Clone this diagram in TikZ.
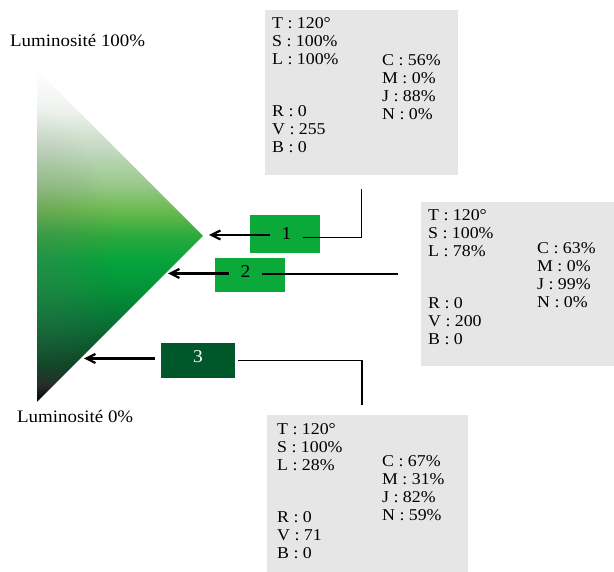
\documentclass[tikz,border=0pt]{standalone}
\usepackage{fontspec}
\setmainfont{Liberation Serif}
\newfontfamily\widefont[FakeStretch=1.08]{Liberation Serif}
\usetikzlibrary{arrows.meta,fadings}

\definecolor{boxgray}{HTML}{E6E6E6}
\definecolor{vivid}{HTML}{0BA83A}
\definecolor{deep}{HTML}{00572A}
\definecolor{lumA}{HTML}{222A24}
\definecolor{lumB}{HTML}{0C4424}
\definecolor{lumC}{HTML}{0A5A2C}
\definecolor{lumD}{HTML}{087434}
\definecolor{lumE}{HTML}{049238}
\definecolor{lumF}{HTML}{06A43C}
\definecolor{lumG}{HTML}{2EAA3C}
\definecolor{lumH}{HTML}{6CBA50}
\definecolor{lumI}{HTML}{98C88A}
\definecolor{lumJ}{HTML}{C2D8C0}
\definecolor{lumK}{HTML}{EEF2EE}

% luminosity ramp, black at the bottom to white at the top
\pgfdeclareverticalshading{lumramp}{100bp}{%
  color(0bp)=(black); color(25bp)=(black);
  color(27.56bp)=(lumA); color(30.57bp)=(lumB); color(33.58bp)=(lumC);
  color(37.35bp)=(lumD); color(41.87bp)=(lumE); color(46.39bp)=(lumF);
  color(50.15bp)=(lumG); color(53.92bp)=(lumH); color(57.68bp)=(lumI);
  color(62.95bp)=(lumJ); color(68.98bp)=(lumK);
  color(75bp)=(white); color(100bp)=(white)}

% soft haze along the left edge of the triangle
\tikzfading[name=sidehaze, inner color=transparent!72, outer color=transparent!100]

\tikzset{
  infobox/.style={fill=boxgray, draw=none, inner sep=0pt, anchor=north west},
  col/.style={anchor=north west, inner sep=0pt, align=left,
    font=\widefont\fontsize{16.5}{18}\selectfont},
  lum/.style={anchor=base west, inner sep=0pt,
    font=\widefont\fontsize{17.5}{19}\selectfont},
  swatch/.style={draw=none, inner sep=0pt},
  num/.style={inner xsep=11pt, inner ysep=0pt,
    font=\widefont\fontsize{18}{20}\selectfont},
  lead/.style={line width=1.4pt},
  pointer/.style={line width=2.2pt, -{Straight Barb[length=9pt,width=9pt]}},
}

\begin{document}
\begin{tikzpicture}[x=1pt, y=-1pt]
\useasboundingbox (0,0) rectangle (614,572);

% luminosity triangle
\coordinate (top) at (37,70);
\coordinate (apex) at (203,236);
\coordinate (bot) at (37,402);
\shade[shading=lumramp] (top) -- (apex) -- (bot) -- cycle;
\begin{scope}
  \clip (top) -- (apex) -- (bot) -- cycle;
  \fill[black!60, path fading=sidehaze] (-40,110) rectangle (114,420);
\end{scope}

\node[lum] (lumhi) at (10,46.3) {Luminosité 100\%};
\node[lum] (lumlo) at (17,422.8) {Luminosité 0\%};

% value panels
\node[infobox, minimum width=193pt, minimum height=165pt] (p1) at (265,10) {};
\node[infobox, minimum width=193pt, minimum height=164pt] (p2) at (421,202) {};
\node[infobox, minimum width=201pt, minimum height=157pt] (p3) at (267,415) {};

\node[col] (p1l) at (272,17.8)
  {T : 120°\\S : 100\%\\L : 100\%\\[34pt]R : 0\\V : 255\\B : 0};
\node[col] (p1r) at (382,54.3)
  {C : 56\%\\M : 0\%\\J : 88\%\\N : 0\%};

\node[col] (p2l) at (428,209.8)
  {T : 120°\\S : 100\%\\L : 78\%\\[34pt]R : 0\\V : 200\\B : 0};
\node[col] (p2r) at (537,242.8)
  {C : 63\%\\M : 0\%\\J : 99\%\\N : 0\%};

\node[col] (p3l) at (277,423.3)
  {T : 120°\\S : 100\%\\L : 28\%\\[34pt]R : 0\\V : 71\\B : 0};
\node[col] (p3r) at (382,455.3)
  {C : 67\%\\M : 31\%\\J : 82\%\\N : 59\%};

% colour swatches
\node[swatch, fill=vivid, minimum width=70pt, minimum height=38pt] (sw1) at (285,234) {};
\node[swatch, fill=vivid, minimum width=70pt, minimum height=34pt] (sw2) at (250,275) {};
\node[swatch, fill=deep, minimum width=74pt, minimum height=35pt] (sw3) at (198,360.5) {};

\node[num] (n1) at (286.5,233.5) {1};
\node[num] (n2) at (245.5,272) {2};
\node[num, text=white] (n3) at (198,357) {3};

% connectors
\coordinate (t1) at (361.5,189);
\coordinate (h1) at (209,235);
\draw[lead] (t1) |- ([yshift=-3.8pt]n1.east);
\draw[pointer] (n1.west |- h1) -- (h1);

\coordinate (s2) at (398,274);
\coordinate (h2) at (168,273.5);
\draw[lead] (s2) -- (n2.east |- s2);
\draw[pointer] (n2.west |- h2) -- (h2);

\coordinate (s3) at (362,405);
\coordinate (h3) at (84,358.5);
\coordinate (g3r) at ([xshift=3pt]sw3.east);
\coordinate (g3l) at ([xshift=-6pt]sw3.west);
\draw[lead] (s3) |- (g3r);
\draw[pointer] (g3l |- h3) -- (h3);
\end{tikzpicture}
\end{document}
